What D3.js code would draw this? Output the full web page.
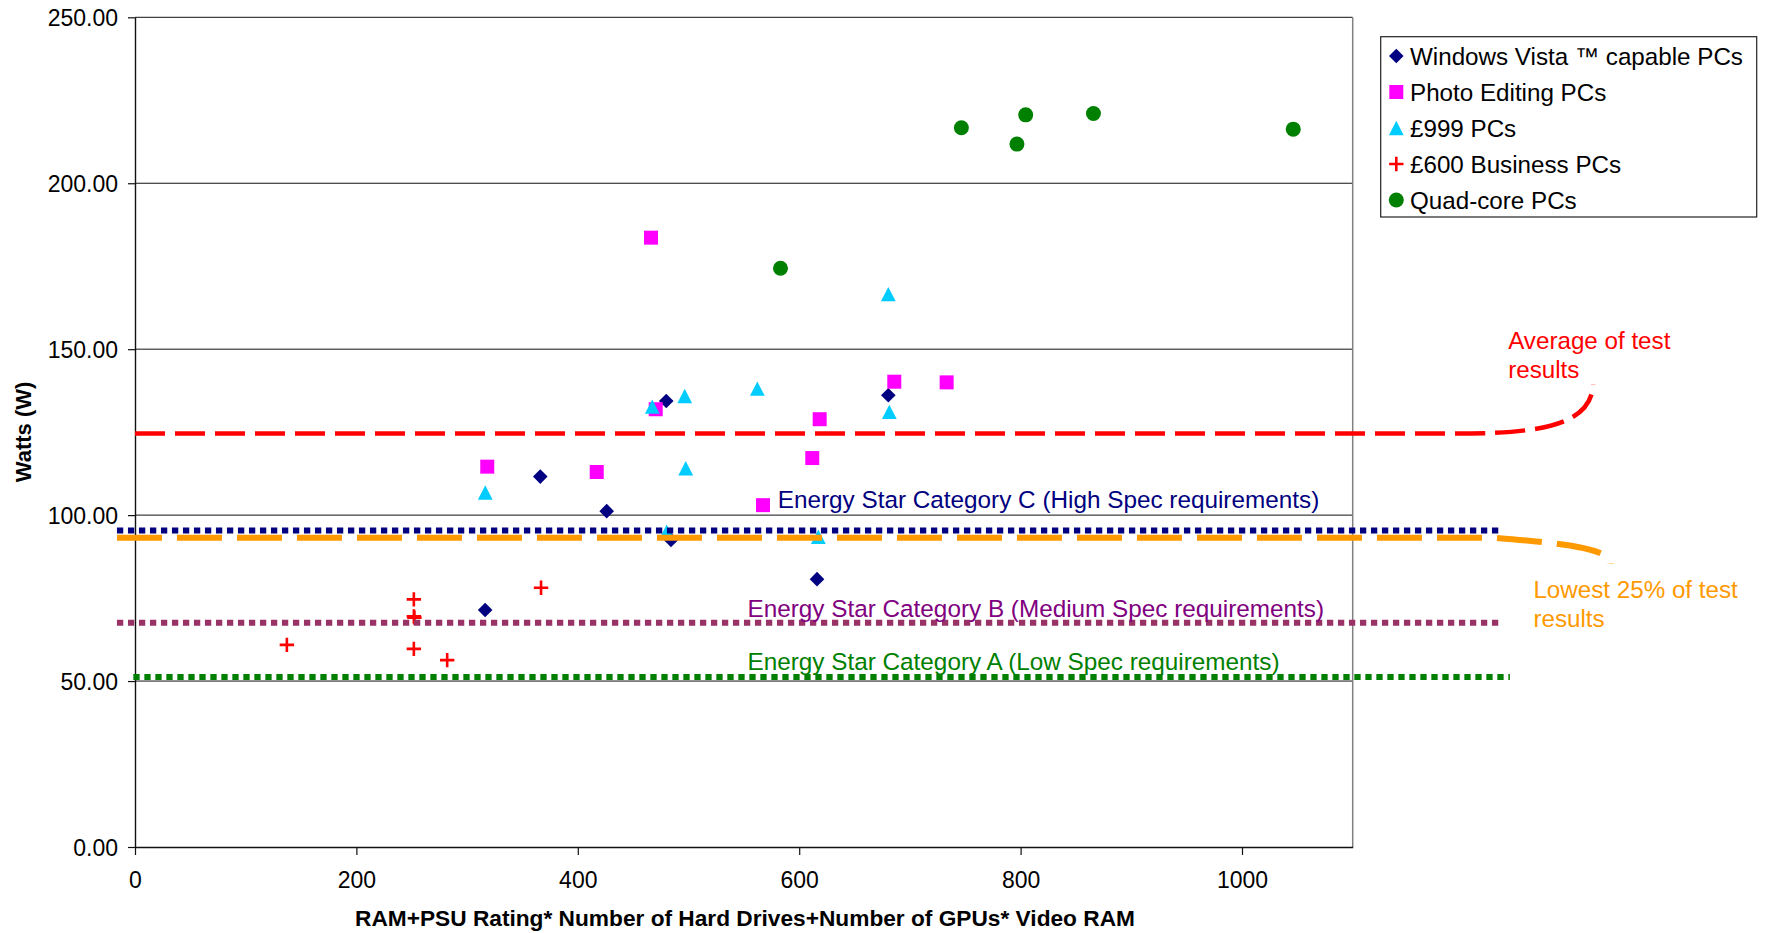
<!DOCTYPE html>
<html>
<head>
<meta charset="utf-8">
<script src="https://cdn.jsdelivr.net/npm/d3@7"></script>
<style>
  html, body { margin: 0; padding: 0; background: #fff; }
  svg { display: block; font-family: "Liberation Sans", Arial, Helvetica, sans-serif; }
</style>
</head>
<body>
<svg id="chart" width="1767" height="933"></svg>
<script>
// ---- Data: measured power draw (W) against the spec score of each PC ----
const vistaX = [479.9, 366.1, 426.1, 484.2, 680.5, 616.1, 316.3];
const vistaY = [134.4, 111.6, 101.2, 92.5, 136.1, 80.7, 71.4];

const photoX = [466.1, 470.4, 318.2, 417.1, 685.9, 733.2, 618.5, 611.8, 567.3];
const photoY = [183.6, 131.9, 114.6, 113.0, 140.2, 140.0, 128.9, 117.2, 103.0];

const pc999X = [467.3, 496.6, 316.4, 497.5, 562.2, 680.5, 681.4, 480.3, 617.3];
const pc999Y = [132.7, 135.9, 106.8, 114.1, 138.1, 166.6, 131.1, 95.0, 93.5];

const businessX = [137.2, 251.9, 251.9, 252.4, 251.9, 282.0, 366.8];
const businessY = [60.9, 74.6, 69.5, 69.1, 59.7, 56.3, 78.1];

const quadX = [583.1, 746.5, 796.7, 804.6, 865.8, 1046.3];
const quadY = [174.4, 216.7, 211.8, 220.6, 221.0, 216.3];

const seriesNames = [
  "Windows Vista \u2122 capable PCs",
  "Photo Editing PCs",
  "\u00a3999 PCs",
  "\u00a3600 Business PCs",
  "Quad-core PCs"
];

// Energy Star reference levels (W)
const energyStarLabels = [
  "Energy Star Category C (High Spec requirements)",
  "Energy Star Category B (Medium Spec requirements)",
  "Energy Star Category A (Low Spec requirements)"
];
const energyStarValues = [95.4, 67.6, 51.2];

// Summary levels of the test results (W)
const averageLabel = ["Average of test", "results"];
const averageValue = 124.6;
const lowestLabel = ["Lowest 25% of test", "results"];
const lowestValue = 93.2;

// Axis ticks
const xTicks = [0, 200, 400, 600, 800, 1000];
const yTicks = [0, 50, 100, 150, 200, 250];

const xTitle = "RAM+PSU Rating* Number of Hard Drives+Number of GPUs* Video RAM";
const yTitle = "Watts (W)";

// ---- Chart ----
const svg = d3.select("#chart");
const x = d3.scaleLinear().domain([0, 1100]).range([135, 1352.7]);
const y = d3.scaleLinear().domain([0, 250]).range([847, 17.3]);

const markerPaths = {
  diamond: "M0,-7.3L7.3,0L0,7.3L-7.3,0Z",
  square: "M-7,-7H7V7H-7Z",
  triangle: "M0,-7.2L7.4,7.2H-7.4Z",
  plus: "M-7.2,0H7.2M0,-7.2V7.2",
  circle: "M7.5,0A7.5,7.5 0 1,1 -7.5,0A7.5,7.5 0 1,1 7.5,0Z"
};

const series = [
  { name: seriesNames[0], xs: vistaX, ys: vistaY, shape: "diamond", color: "#000080" },
  { name: seriesNames[1], xs: photoX, ys: photoY, shape: "square", color: "#FF00FF" },
  { name: seriesNames[2], xs: pc999X, ys: pc999Y, shape: "triangle", color: "#00CCFF" },
  { name: seriesNames[3], xs: businessX, ys: businessY, shape: "plus", color: "#FF0000" },
  { name: seriesNames[4], xs: quadX, ys: quadY, shape: "circle", color: "#008000" }
];

function styleMarker(sel, s) {
  if (s.shape === "plus") {
    sel.attr("fill", "none").attr("stroke", s.color).attr("stroke-width", 2.6);
  } else {
    sel.attr("fill", s.color).attr("stroke", "none");
  }
}

// Horizontal gridlines
svg.append("g")
  .selectAll("line")
  .data(yTicks.filter(d => d > 0))
  .join("line")
  .attr("x1", x(0)).attr("x2", x(1100))
  .attr("y1", d => y(d)).attr("y2", d => y(d))
  .attr("stroke", "#111").attr("stroke-width", 1);

// Right border of the plot area
svg.append("line")
  .attr("x1", x(1100)).attr("x2", x(1100))
  .attr("y1", y(250)).attr("y2", y(0))
  .attr("stroke", "#808080").attr("stroke-width", 1.5);

// Y axis
const yAxis = svg.append("g")
  .attr("transform", `translate(${x(0)},0)`)
  .call(d3.axisLeft(y).tickValues(yTicks).tickFormat(d3.format(".2f"))
    .tickSize(7).tickSizeOuter(0).tickPadding(10));
yAxis.selectAll("text").attr("font-size", 23).attr("fill", "#000")
  .attr("font-family", "'Liberation Sans', Arial, sans-serif").attr("dy", "0.36em");
yAxis.select(".domain").attr("stroke", "#111").attr("stroke-width", 1.4);
yAxis.selectAll(".tick line").attr("stroke", "#111").attr("stroke-width", 1.2);

// X axis
const xAxis = svg.append("g")
  .attr("transform", `translate(0,${y(0)})`)
  .call(d3.axisBottom(x).tickValues(xTicks).tickFormat(d3.format("d"))
    .tickSize(8).tickSizeOuter(0));
xAxis.selectAll("text").attr("font-size", 23).attr("fill", "#000")
  .attr("font-family", "'Liberation Sans', Arial, sans-serif")
  .attr("y", 41).attr("dy", 0);
xAxis.select(".domain").attr("stroke", "#111").attr("stroke-width", 1.4);
xAxis.selectAll(".tick line").attr("stroke", "#111").attr("stroke-width", 1.2);

// Axis titles
svg.append("text")
  .attr("x", 745).attr("y", 926)
  .attr("text-anchor", "middle")
  .attr("font-size", 22.7).attr("font-weight", "bold")
  .text(xTitle);

svg.append("text")
  .attr("transform", "translate(31,432) rotate(-90)")
  .attr("text-anchor", "middle")
  .attr("font-size", 22).attr("font-weight", "bold")
  .text(yTitle);

// Data points
const points = svg.append("g");
series.forEach(s => {
  const sel = points.append("g")
    .selectAll("path")
    .data(s.xs.map((v, i) => [v, s.ys[i]]))
    .join("path")
    .attr("d", markerPaths[s.shape])
    .attr("transform", d => `translate(${x(d[0])},${y(d[1])})`);
  styleMarker(sel, s);
});

// Reference lines
const refColors = ["#000080", "#993366", "#008000"];
const textColors = ["#000080", "#800080", "#008000"];
const refStart = [-16.3, -16.3, -1.5];
const refEnd = [1233, 1233, 1242];
const refLabelX = [580.6, 553.3, 553.3];
const refLabelDy = [-22, -6, -7];

const refs = svg.append("g");

// Lowest 25% line with its leader curl
const yLow = y(lowestValue);
const lowEnd = x(1228);
refs.append("path")
  .attr("d", `M${x(-16.3)},${yLow}H${lowEnd}C${lowEnd + 65},${yLow + 5.3} ${lowEnd + 117},${yLow + 10.3} ${lowEnd + 116},${yLow + 26}`)
  .attr("fill", "none").attr("stroke", "#FF9900").attr("stroke-width", 6)
  .attr("stroke-dasharray", "45 15");

energyStarValues.forEach((v, i) => {
  refs.append("line")
    .attr("x1", x(refStart[i])).attr("x2", x(refEnd[i]))
    .attr("y1", y(v)).attr("y2", y(v))
    .attr("stroke", refColors[i]).attr("stroke-width", 6)
    .attr("stroke-dasharray", "6.3 4.7");
  refs.append("text")
    .attr("x", x(refLabelX[i])).attr("y", y(v) + refLabelDy[i])
    .attr("font-size", 24.3).attr("fill", textColors[i])
    .text(energyStarLabels[i]);
});

// Average line with its leader curl
const yAvg = y(averageValue);
const avgEnd = x(1207);
refs.append("path")
  .attr("d", `M${x(0)},${yAvg}H${avgEnd}C${avgEnd + 70},${yAvg - 1} ${avgEnd + 120},${yAvg - 9} ${avgEnd + 122},${yAvg - 49}`)
  .attr("fill", "none").attr("stroke", "#FF0000").attr("stroke-width", 4.5)
  .attr("stroke-dasharray", "30 10");

// Annotation texts
const avgText = svg.append("text")
  .attr("x", avgEnd + 37).attr("y", yAvg - 84.5)
  .attr("font-size", 24.2).attr("fill", "#FF0000");
averageLabel.forEach((t, i) => {
  avgText.append("tspan").attr("x", avgEnd + 37).attr("dy", i === 0 ? 0 : 29).text(t);
});

const lowText = svg.append("text")
  .attr("x", lowEnd + 39).attr("y", yLow + 60.6)
  .attr("font-size", 24.2).attr("fill", "#FF9900");
lowestLabel.forEach((t, i) => {
  lowText.append("tspan").attr("x", lowEnd + 39).attr("dy", i === 0 ? 0 : 29).text(t);
});

// Legend
const legend = svg.append("g").attr("transform", "translate(1380.7,36.7)");
legend.append("rect")
  .attr("width", 376).attr("height", 180.3)
  .attr("fill", "#fff").attr("stroke", "#222").attr("stroke-width", 1.2);
series.forEach((s, i) => {
  const row = legend.append("g").attr("transform", `translate(0,${19.3 + i * 36})`);
  const m = row.append("path").attr("d", markerPaths[s.shape])
    .attr("transform", "translate(15.6,0)");
  styleMarker(m, s);
  row.append("text").attr("x", 29.3).attr("y", 8.5)
    .attr("font-size", 24.2).attr("fill", "#000").text(s.name);
});
</script>
</body>
</html>
